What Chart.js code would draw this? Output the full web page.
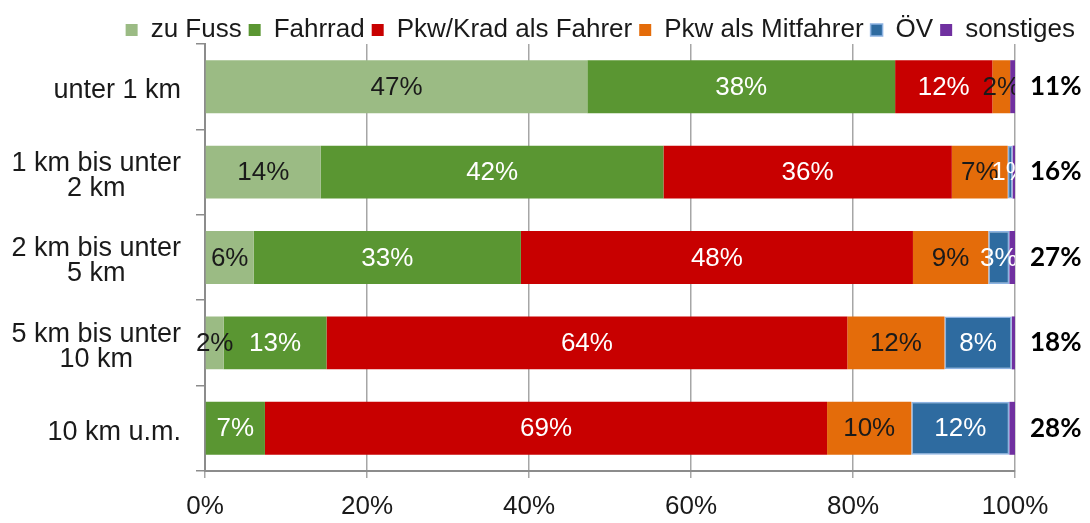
<!DOCTYPE html>
<html>
<head>
<meta charset="utf-8">
<script src="https://cdn.jsdelivr.net/npm/chart.js@4.4.0/dist/chart.umd.min.js"></script>
<style>
  html, body { margin: 0; padding: 0; background: #fff; }
</style>
</head>
<body>
<canvas id="myChart" width="1090" height="523"></canvas>
<script>
var categories = [["unter 1 km"], ["1 km bis unter", "2 km"], ["2 km bis unter", "5 km"], ["5 km bis unter", "10 km"], ["10 km u.m."]];
var seriesNames = ["zu Fuss", "Fahrrad", "Pkw/Krad als Fahrer", "Pkw als Mitfahrer", "ÖV", "sonstiges"];

// Anteile in % je Entfernungsklasse
var zuFuss    = [47.2, 14.3,  6.0,  2.3,  0.0];
var fahrrad   = [38.0, 42.3, 33.0, 12.7,  7.4];
var pkwFahrer = [12.0, 35.6, 48.4, 64.3, 69.4];
var mitfahrer = [ 2.2,  6.9,  9.3, 12.0, 10.4];
var oev       = [ 0.0,  0.6,  2.6,  8.3, 12.1];
var sonstiges = [ 0.6,  0.3,  0.7,  0.4,  0.7];

var shareLabels = ["11%", "16%", "27%", "18%", "28%"];
var xTickLabels = ["0%", "20%", "40%", "60%", "80%", "100%"];

var FONT = '"Liberation Sans", Arial, sans-serif';

// Prozentwerte in den Balken
var barLabels = {
  id: "barLabels",
  afterDatasetsDraw(chart) {
    var ctx = chart.ctx, area = chart.chartArea;
    ctx.save();
    ctx.beginPath();
    ctx.rect(0, area.top, area.right, area.bottom - area.top);
    ctx.clip();
    ctx.font = "26px " + FONT;
    ctx.textAlign = "center";
    ctx.textBaseline = "middle";
    chart.data.datasets.forEach((ds, i) => {
      if (!ds.labelColor) return;
      chart.getDatasetMeta(i).data.forEach((bar, j) => {
        var v = Math.round(ds.data[j]);
        if (v < 1) return;
        ctx.fillStyle = ds.labelColor;
        ctx.fillText(v + "%", (bar.x + bar.base) / 2, bar.y + 1);
      });
    });
    ctx.restore();
  }
};

// Kategorienamen links: Block rechtsbündig, Zeilen zentriert
var catLabels = {
  id: "catLabels",
  afterDraw(chart) {
    var ctx = chart.ctx, scale = chart.scales.y;
    ctx.save();
    ctx.font = "27px " + FONT;
    ctx.fillStyle = "#1a1a1a";
    ctx.textAlign = "center";
    ctx.textBaseline = "middle";
    chart.data.labels.forEach((lines, i) => {
      var y = scale.getPixelForValue(i);
      var w = Math.max(...lines.map(l => ctx.measureText(l).width));
      var cx = scale.right - 24 - w / 2;
      lines.forEach((l, k) => {
        ctx.fillText(l, cx, y + 4 + (k - (lines.length - 1) / 2) * 25);
      });
    });
    ctx.restore();
  }
};

// feste Höhe für die Legende
var legendSpace = {
  id: "legendSpace",
  beforeInit(chart) {
    var originalFit = chart.legend.fit;
    chart.legend.fit = function fit() {
      originalFit.bind(chart.legend)();
      this.height = 34;
    };
  }
};

new Chart("myChart", {
  type: "bar",
  data: {
    labels: categories,
    datasets: [
      { label: seriesNames[0], data: zuFuss,    backgroundColor: "#9BBB84", labelColor: "#1a1a1a" },
      { label: seriesNames[1], data: fahrrad,   backgroundColor: "#5A9632", labelColor: "#ffffff" },
      { label: seriesNames[2], data: pkwFahrer, backgroundColor: "#C80000", labelColor: "#ffffff" },
      { label: seriesNames[3], data: mitfahrer, backgroundColor: "#E46C0A", labelColor: "#1a1a1a" },
      { label: seriesNames[4], data: oev,       backgroundColor: "#2E6BA0", borderColor: "#8DB3E2", borderWidth: 1.5, borderSkipped: false, labelColor: "#ffffff" },
      { label: seriesNames[5], data: sonstiges, backgroundColor: "#7030A0" }
    ]
  },
  options: {
    indexAxis: "y",
    responsive: false,
    animation: false,
    devicePixelRatio: 1,
    barPercentage: 0.62,
    categoryPercentage: 1,
    layout: { padding: { top: 10, right: 8, left: 0, bottom: 0 } },
    scales: {
      x: {
        stacked: true,
        min: 0,
        max: 100,
        ticks: {
          stepSize: 20,
          callback: (v, i) => xTickLabels[i],
          font: { size: 26, family: FONT },
          color: "#1a1a1a",
          padding: 13
        },
        grid: { color: "#a6a6a6", lineWidth: 1.5, tickLength: 7 },
        border: { color: "#8c8c8c", width: 2 },
        afterFit: s => { s.height = 52; }
      },
      y: {
        stacked: true,
        ticks: { display: false },
        grid: { drawOnChartArea: false, tickLength: 9, color: "#8c8c8c", lineWidth: 1.5 },
        border: { color: "#8c8c8c", width: 2 },
        afterFit: s => { s.width = 205; }
      },
      y2: {
        type: "category",
        labels: shareLabels,
        position: "right",
        offset: true,
        grid: { display: false, drawTicks: false },
        border: { display: false },
        ticks: { font: { size: 26, weight: "bold", family: "Lato, sans-serif" }, color: "#000", padding: 15 },
        afterFit: s => { s.width = 67; }
      }
    },
    plugins: {
      legend: {
        position: "top",
        align: "end",
        labels: {
          boxWidth: 12,
          boxHeight: 12,
          padding: 7,
          color: "#1a1a1a",
          font: { size: 26, family: FONT }
        }
      },
      tooltip: { enabled: false }
    }
  },
  plugins: [barLabels, catLabels, legendSpace]
});
</script>
</body>
</html>
